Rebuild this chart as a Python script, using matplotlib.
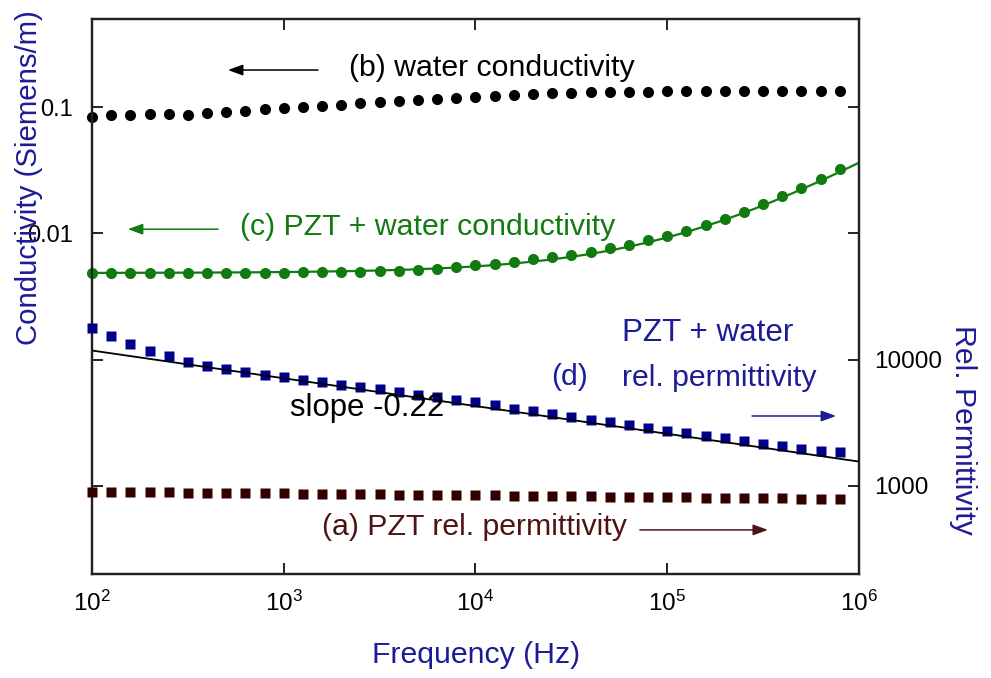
import numpy as np
import matplotlib.pyplot as plt
from matplotlib.ticker import FixedLocator, FixedFormatter

plt.rcParams['font.family'] = ['Liberation Sans', 'DejaVu Sans']
plt.rcParams['mathtext.fontset'] = 'custom'
plt.rcParams['mathtext.rm'] = 'Liberation Sans'
plt.rcParams['mathtext.it'] = 'Liberation Sans:italic'

# Measurement frequencies (Hz), ten points per decade
freq_hz = [100, 126, 158, 200, 251, 316, 398, 501, 631, 794,
           1000, 1259, 1585, 1995, 2512, 3162, 3981, 5012, 6310, 7943,
           10000, 12589, 15849, 19953, 25119, 31623, 39811, 50119, 63096, 79433,
           100000, 125893, 158489, 199526, 251189, 316228, 398107, 501187, 630957, 794328]

# (b) water conductivity, S/m
water_cond = [0.0838, 0.0864, 0.0875, 0.0885, 0.0885, 0.0875, 0.0896, 0.0908, 0.0940, 0.0964,
              0.0987, 0.1005, 0.1024, 0.1050, 0.1070, 0.1090, 0.1116, 0.1136, 0.1157, 0.1185,
              0.1207, 0.1230, 0.1245, 0.1270, 0.1285, 0.1300, 0.1310, 0.1323, 0.1323, 0.1330,
              0.1340, 0.1340, 0.1347, 0.1347, 0.1347, 0.1347, 0.1347, 0.1347, 0.1347, 0.1347]

# (c) PZT + water conductivity, S/m
pzt_water_cond = [0.00487, 0.00487, 0.00487, 0.00487, 0.00487, 0.00487, 0.00487, 0.00487, 0.00487, 0.00489,
                  0.00489, 0.00490, 0.00492, 0.00493, 0.00496, 0.00499, 0.00506, 0.00512, 0.00521, 0.00540,
                  0.00557, 0.00575, 0.00592, 0.00622, 0.00649, 0.00669, 0.00711, 0.00770, 0.00813, 0.00880,
                  0.00947, 0.0104, 0.0116, 0.0131, 0.0148, 0.0172, 0.0197, 0.0231, 0.0272, 0.0326]

# (d) PZT + water relative permittivity
pzt_water_perm = [17850, 15310, 13330, 11640, 10620, 9590, 8850, 8440, 7930, 7510,
                  7235, 6940, 6600, 6333, 6106, 5855, 5541, 5276, 5058, 4771,
                  4574, 4338, 4085, 3888, 3707, 3510, 3341, 3180, 3010, 2870,
                  2733, 2620, 2494, 2391, 2276, 2154, 2051, 1967, 1896, 1838]

# (a) PZT relative permittivity
pzt_perm = [900, 895, 893, 890, 887, 884, 881, 878, 876, 873,
            870, 867, 865, 862, 859, 856, 853, 851, 848, 845,
            842, 839, 836, 833, 831, 828, 825, 822, 819, 816,
            813, 810, 807, 804, 801, 798, 795, 792, 788, 784]

# Conductivity fit: sigma = sigma_dc + A * f**n
SIGMA_DC = 0.00485
SIGMA_A = 2.5e-7
SIGMA_N = 0.85

# Power-law guide for the permittivity: eps = EPS_REF * (f / 100)**SLOPE
EPS_REF = 11800
SLOPE = -0.22

x_ticks = [1e2, 1e3, 1e4, 1e5, 1e6]
x_ticklabels = ['$10^{2}$', '$10^{3}$', '$10^{4}$', '$10^{5}$', '$10^{6}$']
cond_ticks = [1e-4, 1e-3, 1e-2, 1e-1]
cond_ticklabels = ['', '', '0.01', '0.1']
perm_ticks = [1e3, 1e4, 1e5, 1e6]
perm_ticklabels = ['1000', '10000', '', '']

BLACK = '#000000'
GREEN = '#117a11'
NAVY = '#00008c'
NAVY_TEXT = '#1c1c96'
MAROON = '#330000'
MAROON_TEXT = '#4d1414'
SPINE = '#222222'

fig = plt.figure(figsize=(9.91, 6.78), dpi=100)
ax = fig.add_axes([0.0928, 0.1534, 0.7740, 0.8186])
ax2 = ax.twinx()

for a in (ax, ax2):
    for s in a.spines.values():
        s.set_linewidth(1.6)
        s.set_color(SPINE)

ax.set_xscale('log')
ax.set_yscale('log')
ax2.set_yscale('log')
ax.set_xlim(1e2, 1e6)
ax.set_ylim(2e-5, 0.5)
ax2.set_ylim(200, 5e6)

# Conductivity (left axis)
ax.plot(freq_hz, water_cond, 'o', color=BLACK, ms=8, mec='none', clip_on=False, zorder=3)
f_fit = np.logspace(2, 6, 300)
ax.plot(f_fit, SIGMA_DC + SIGMA_A * f_fit ** SIGMA_N, '-', color=GREEN, lw=1.6, zorder=3)
ax.plot(freq_hz, pzt_water_cond, 'o', color=GREEN, ms=8, mec='none', clip_on=False, zorder=4)

# Permittivity (right axis)
ax2.plot(freq_hz, pzt_water_perm, 's', color=NAVY, ms=7, mec='none', clip_on=False, zorder=3)
f_line = np.array([1e2, 1e6])
ax2.plot(f_line, EPS_REF * (f_line / 100) ** SLOPE, '-', color=BLACK, lw=1.3, zorder=4)
ax2.plot(freq_hz, pzt_perm, 's', color=MAROON, ms=7, mec='none', clip_on=False, zorder=3)

# Ticks
ax.xaxis.set_major_locator(FixedLocator(x_ticks))
ax.xaxis.set_major_formatter(FixedFormatter(x_ticklabels))
ax.xaxis.set_minor_locator(FixedLocator([]))
ax.yaxis.set_major_locator(FixedLocator(cond_ticks))
ax.yaxis.set_major_formatter(FixedFormatter(cond_ticklabels))
ax.yaxis.set_minor_locator(FixedLocator([]))
ax2.yaxis.set_major_locator(FixedLocator(perm_ticks))
ax2.yaxis.set_major_formatter(FixedFormatter(perm_ticklabels))
ax2.yaxis.set_minor_locator(FixedLocator([]))

ax.tick_params(axis='x', which='major', direction='in', top=True, length=8, width=1.4,
               color=SPINE, labelsize=17.5, pad=12)
ax.tick_params(axis='y', which='major', direction='in', length=8, width=1.4,
               color=SPINE, labelsize=17, pad=14)
ax2.tick_params(axis='y', which='major', direction='in', length=8, width=1.4,
                color=SPINE, labelsize=17.5, pad=11)

# Axis labels
fig.text(29 / 991, 1 - 178 / 678, 'Conductivity (Siemens/m)', rotation=90,
         ha='center', va='center', fontsize=21.2, color=NAVY_TEXT)
fig.text(963 / 991, 1 - 430 / 678, 'Rel. Permittivity', rotation=-90,
         ha='center', va='center', fontsize=21.8, color=NAVY_TEXT)
fig.text(476 / 991, 1 - 655 / 678, 'Frequency (Hz)',
         ha='center', va='center', fontsize=21.8, color=NAVY_TEXT)

TXT = 21.8

def arrow(axis, x0, x1, y, color):
    axis.annotate('', xy=(x1, y), xytext=(x0, y),
                  arrowprops=dict(arrowstyle='-|>,head_length=0.6,head_width=0.22',
                                  color=color, lw=1.1, mutation_scale=15,
                                  shrinkA=0, shrinkB=0))

# Series annotations
ax.text(2.2e3, 0.205, '(b) water conductivity', color=BLACK, fontsize=TXT,
        ha='left', va='center')
arrow(ax, 1.51e3, 512, 0.197, BLACK)

ax.text(592, 0.01125, '(c) PZT + water conductivity', color=GREEN, fontsize=TXT,
        ha='left', va='center')
arrow(ax, 454, 154, 0.0108, GREEN)

ax2.text(2.48e4, 7280, '(d)', color=NAVY_TEXT, fontsize=TXT, ha='left', va='center')
ax2.text(5.8e4, 16250, 'PZT + water', color=NAVY_TEXT, fontsize=TXT + 0.8, ha='left', va='center')
ax2.text(5.8e4, 7145, 'rel. permittivity', color=NAVY_TEXT, fontsize=TXT, ha='left', va='center')
arrow(ax2, 2.77e5, 7.59e5, 3573, NAVY_TEXT)

ax2.text(1078, 4135, 'slope -0.22', color=BLACK, fontsize=TXT + 0.6, ha='left', va='center')

ax2.text(1583, 472, '(a) PZT rel. permittivity', color=MAROON_TEXT, fontsize=TXT,
         ha='left', va='center')
arrow(ax2, 7.2e4, 3.35e5, 447, MAROON_TEXT)

fig.savefig('out.png', dpi=100)
